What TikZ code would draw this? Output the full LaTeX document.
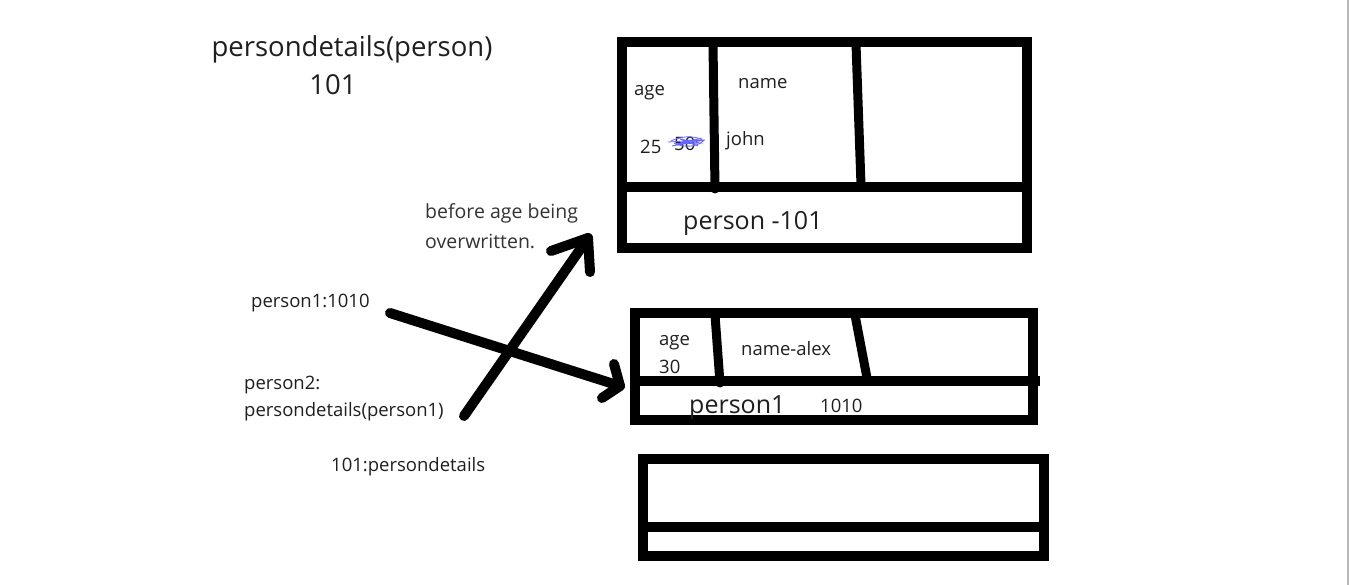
\documentclass[tikz,border=0pt]{standalone}
\usepackage{fontspec}
\setmainfont{Open Sans}
\begin{document}
\begin{tikzpicture}[x=1pt,y=-1pt,
  box/.style={line width=10pt,draw=black},
  divider/.style={line width=9pt,line cap=round},
  bigtxt/.style={font=\fontsize{25}{28}\selectfont,text=black!88,inner sep=0pt},
  hugetxt/.style={font=\fontsize{27.5}{30}\selectfont,text=black!88,inner sep=0pt},
  smalltxt/.style={font=\fontsize{18.5}{21}\selectfont,text=black!88,inner sep=0pt},
  notetxt/.style={font=\fontsize{19.5}{22}\selectfont,text=black!80,inner sep=0pt},
  pen/.style={line width=10pt,line cap=round,line join=round},
  scrib/.style={draw=blue!60!white,line width=0.8pt}
]
\useasboundingbox[fill=white] (0,0) rectangle (1350,585);
\draw[gray!55,line width=2pt] (1347.5,0) -- (1347.5,585);

% ---- box 1
\draw[box] (622,42.5) rectangle (1027,248);
\draw[box] (622,187) -- (1027,187);
\coordinate (v1a) at (713,44); \coordinate (v1b) at (715,189);
\coordinate (v2a) at (856,44); \coordinate (v2b) at (861,185);
\draw[divider] (v1a) -- (v1b);
\draw[divider] (v2a) -- (v2b);
\node[smalltxt,anchor=west] (age1) at (634,93) {age};
\node[smalltxt,anchor=west] (name1) at (738,84) {name};
\node[smalltxt,anchor=west] (v25) at (640,147) {25};
\node[smalltxt,anchor=west] (v50) at (674,144) {50};
\node[smalltxt,anchor=west] (john) at (726,141) {john};
\node[bigtxt,anchor=west] (p101) at (683,223) {person -101};
\draw[scrib] (668,142) -- (705,140) -- (672,146) -- (702,138) -- (676,144) -- (700,143) -- (680,139) -- (698,146) -- (685,140) -- (704,141);
\draw[scrib] (671,141) .. controls (685,134) and (700,137) .. (703,141) .. controls (698,147) and (682,148) .. (674,143);

% ---- box 2
\draw[box] (635,313) rectangle (1033,420);
\draw[box] (635,381) -- (1040,381);
\coordinate (w1a) at (715,315); \coordinate (w1b) at (720,383);
\coordinate (w2a) at (855,315); \coordinate (w2b) at (867,378);
\draw[divider] (w1a) -- (w1b);
\draw[divider,line cap=butt] (w2a) -- (w2b);
\node[smalltxt,anchor=west] (age2) at (659,343) {age};
\node[smalltxt,anchor=west] (v30) at (659,367) {30};
\node[smalltxt,anchor=west] (name2) at (741,349) {name-alex};
\node[bigtxt,anchor=west] (p1) at (689,408) {person1};
\node[smalltxt,anchor=west] (a1010) at (820,406) {1010};

% ---- box 3
\draw[box] (643,459) rectangle (1044,556);
\draw[box] (643,527) -- (1044,527);

% ---- labels
\node[hugetxt] (pd) at (352,49) {persondetails(person)};
\node[hugetxt] (n101) at (333,85) {101};
\node[notetxt,anchor=west] (bef1) at (425,213) {before age being};
\node[notetxt,anchor=west] (bef2) at (425,241) {overwritten.};
\node[smalltxt,anchor=west] (p1a) at (251,303) {person1:1010};
\node[smalltxt,anchor=west] (p2a) at (244,385) {person2:};
\node[smalltxt,anchor=west] (p2b) at (244,412) {persondetails(person1)};
\node[smalltxt,anchor=west] (pd101) at (331,467) {101:persondetails};

% ---- arrows
\coordinate (a1s) at (390,313); \coordinate (a1t) at (620,386);
\coordinate (a1u) at (614,364); \coordinate (a1l) at (602,398);
\draw[pen] (a1s) -- (a1t);
\draw[pen] (a1u) -- (a1t) -- (a1l);
\coordinate (a2s) at (464,416); \coordinate (a2t) at (588,238);
\coordinate (a2u) at (551,251); \coordinate (a2l) at (590,272);
\draw[pen] (a2s) -- (a2t);
\draw[pen] (a2u) -- (a2t) -- (a2l);
\end{tikzpicture}
\end{document}
